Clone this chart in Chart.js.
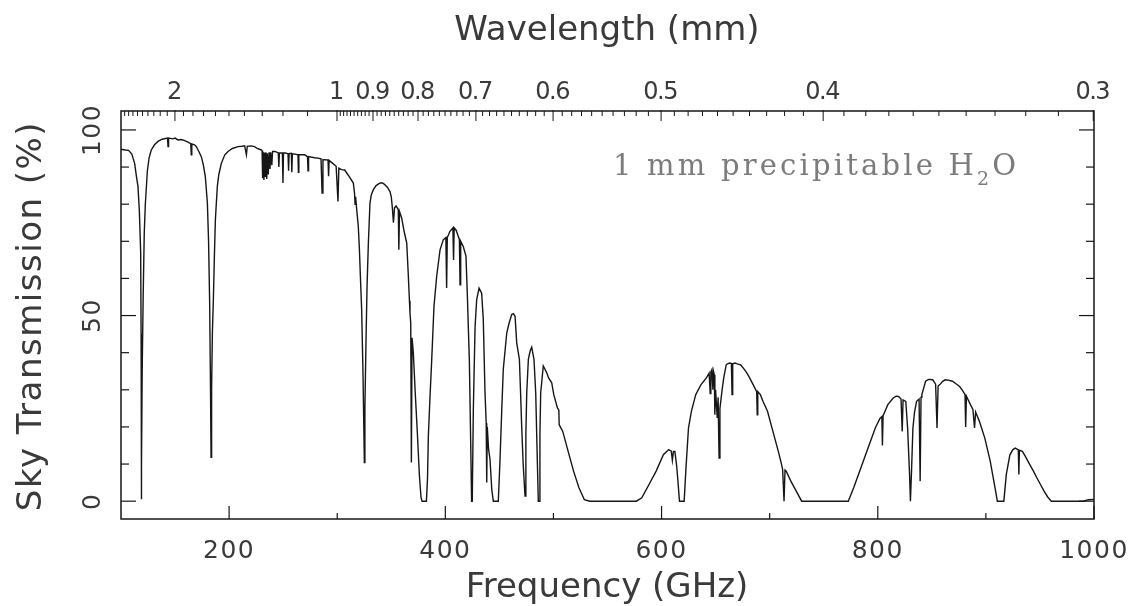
<!DOCTYPE html>
<html>
<head>
<meta charset="utf-8">
<title>Sky Transmission</title>
<script src="https://cdn.jsdelivr.net/npm/chart.js@4.4.1/dist/chart.umd.min.js"></script>
<style>
  html, body { margin: 0; padding: 0; background: #fff; }
  #wrap { width: 1134px; height: 606px; }
</style>
</head>
<body>
<div id="wrap"><canvas id="sky" width="1134" height="606"></canvas></div>
<script>
// -- DATA ----------------------------------------------
// transmission spectrum (GHz, %)
const freqGHz = [
  100, 104, 107, 110, 112.6, 114.5, 115.7, 117, 118.2, 118.6,
  118.8, 119.1, 119.6, 120.5, 121.5, 122.5, 124.4, 126, 128, 131,
  134.2, 138, 143, 143.5, 144, 148, 150, 152.7, 156, 158.9,
  162, 164.5, 165, 165.5, 168, 169.7, 172, 174.3, 176.2, 178,
  179.9, 181, 182, 182.8, 183.3, 183.8, 184.5, 185.5, 186.3, 187.3,
  189.1, 190.5, 192.8, 196, 199, 203, 208.2, 212, 214.4, 216,
  216.8, 220, 223.6, 226, 229.8, 230.5, 231, 231.5, 232.2, 232.8,
  233.5, 234, 234.8, 235.4, 236.2, 237, 237.8, 238.5, 239.5, 240.2,
  242.2, 244, 245.5, 246, 246.5, 249.3, 249.8, 250.3, 252, 254.5,
  255, 255.5, 257.6, 258, 258.5, 261, 263.7, 264.1, 264.5, 269.9,
  272.5, 273, 273.5, 279, 282.2, 285, 286, 286.8, 291.5, 292,
  292.5, 295, 299, 300.7, 301.5, 304, 306.9, 308.8, 311, 314.9,
  316, 316.5, 317, 318.2, 319.5, 320.5, 321.5, 322.6, 323.8, 324.6,
  325.1, 325.6, 326.6, 327.6, 328.8, 330.3, 331.5, 333.4, 336, 339.6,
  342, 344.2, 346.5, 348.8, 350, 351, 352, 353, 354.5, 356.5,
  357, 357.6, 359.6, 362, 364.3, 365.8, 366.8, 367.3, 368, 368.6,
  369.2, 370.4, 372.2, 374.1, 376, 377.5, 378.5, 382.5, 383.5, 384.3,
  385.8, 387.4, 389.5, 392, 395.1, 398.1, 400.5, 401.2, 401.8, 404.3,
  407, 407.6, 408.2, 410, 412, 413, 413.6, 414.2, 416.6, 419.1,
  420.3, 422.2, 423.5, 424.3, 424.9, 425.9, 427.5, 429, 431.2, 433.6,
  435.1, 436.7, 437.8, 438.3, 438.8, 440, 441.3, 443, 444.4, 449,
  450.6, 452.2, 453.6, 456.8, 459, 461.4, 463, 464.5, 466, 468.5,
  469.5, 470.6, 472, 473.7, 474.5, 475.3, 476.8, 478.5, 479.9, 482,
  483.6, 485, 486, 486.8, 487.5, 488.2, 490.6, 493.8, 495.5, 498.4,
  500.3, 503.7, 505, 505.3, 508.6, 513.6, 518.6, 523.6, 528.6, 533.6,
  576.7, 581.7, 588.4, 595, 601.7, 606.6, 609, 610, 611, 612.3,
  613.8, 614.9, 616.6, 620.9, 622.6, 624.9, 627.6, 631.6, 636.5, 641.5,
  644, 645, 645.6, 646.5, 647.5, 648, 648.8, 649.3, 650, 651.5,
  652.3, 653.2, 654, 656, 657.5, 659.8, 661, 663.1, 664.6, 665.2,
  665.8, 668.1, 670, 673.1, 675.5, 678.1, 681, 684.7, 688, 688.5,
  689, 691.4, 694, 698, 703, 708, 710.5, 712, 713.3, 714.2,
  715.3, 719.6, 724.6, 729.6, 772.7, 777.7, 784.4, 791, 797.7, 802,
  803.8, 804.3, 804.9, 809.3, 814.3, 817, 819.2, 821.5, 822.6, 823.4,
  825.9, 827.6, 829.3, 830.2, 831.2, 832.5, 834, 835.9, 838.2, 839.2,
  840, 840.8, 844.2, 847, 850.8, 853.5, 854.8, 855.8, 857.4, 860,
  862.4, 865, 869.1, 872, 875.7, 878.5, 880.7, 881.3, 882, 885.7,
  888, 889.5, 890.5, 894, 899, 904, 909, 910.6, 916.6, 918.9,
  922.2, 925, 927.2, 930, 930.5, 931, 933.8, 937, 940.5, 944,
  947.1, 950.5, 953.8, 957, 960.5, 990, 995, 1000
];
const transmission = [
  94.8, 94.6, 94.5, 93.5, 91, 87, 84.8, 78, 67, 45,
  0.5, 10, 35, 55, 72, 80, 89, 92.5, 94.6, 96,
  96.9, 97.5, 97.8, 95.5, 97.8, 97.6, 97.8, 97.3, 97.4, 97.1,
  96.7, 96.3, 93.3, 96.2, 96, 95.5, 94.2, 92.8, 90.5, 87.4,
  80.3, 70, 53.5, 30, 11.8, 30, 45, 55, 65, 75.8,
  84.8, 88, 91, 93.3, 94.2, 95, 95.5, 95.6, 95.7, 93.3,
  95.6, 95.7, 95.5, 95, 94.6, 94.4, 87, 94, 86.5, 93.8,
  87.5, 94, 86.8, 93.7, 88, 94, 89.5, 94, 90.5, 94.2,
  94.2, 94, 93.8, 90, 93.8, 93.8, 85.7, 93.8, 93.8, 93.6,
  89, 93.6, 93.7, 88.6, 93.6, 93.5, 93.3, 88.6, 93.3, 93.3,
  92.8, 89, 92.8, 92.5, 92.4, 92.2, 83, 92, 91.9, 87.5,
  91.8, 91.2, 90.2, 80.7, 89.7, 89.3, 89.2, 88.4, 87.5, 85.7,
  83, 80, 82, 78, 74, 68, 60, 51.6, 35, 20,
  10.4, 25, 42.7, 58, 69.5, 80.3, 82.5, 83.9, 85, 85.7,
  85.7, 85.2, 84.5, 83.4, 82, 79, 75, 79, 79.5, 78.5,
  67.7, 78, 76.3, 72.5, 69.5, 60.6, 54, 50.7, 48, 10.4,
  44, 40, 29, 18.5, 7, 1, 0, 0, 6, 17.6,
  28, 38, 52.5, 60.6, 67.7, 70.4, 71, 57.4, 71, 72.7,
  73.6, 65, 73.6, 73, 71.3, 70.5, 58.3, 70, 68.6, 66,
  56, 38.2, 15, 0, 0, 24.7, 47, 54.3, 57.4, 56,
  49, 29.2, 21, 5, 20, 14, 11.3, 3, 0, 0,
  11.3, 24.7, 35.5, 45.3, 48, 50.3, 50.5, 49.8, 42.7, 38.2,
  30, 20.3, 10, 1.4, 18, 29.2, 38.2, 40.5, 41.5, 38.2,
  29.2, 12, 0, 0, 18, 29.2, 36.4, 34.6, 33.2, 31.9,
  28.7, 25.1, 24.5, 20.6, 18.8, 13.4, 8.1, 3.6, 0.4, 0,
  0, 0.9, 4.5, 8.1, 12.5, 13.9, 13.5, 11, 13.4, 13.4,
  10, 6.3, 0, 0, 9, 19.7, 24.2, 28.7, 31.4, 33.2,
  34.5, 29, 34.8, 35.4, 30, 35, 34, 23.3, 30, 22.4,
  28, 11.6, 25, 30, 33.2, 36.7, 37, 37.2, 37.1, 28.7,
  37, 37.2, 37, 36.7, 35.9, 34.9, 33.5, 31.4, 29.5, 23.3,
  29.5, 28.7, 26.8, 24.2, 18.8, 13.4, 10.5, 8.5, 0, 8.4,
  8.1, 5.4, 2.7, 0, 0, 3.6, 9, 14.3, 19.7, 22.3,
  22.8, 15, 23, 26, 27.8, 28.3, 28.2, 27.5, 18.8, 27.3,
  26.9, 19.7, 8, 0, 8, 19.7, 24, 26.9, 27.5, 5.4,
  28, 28.7, 32.3, 32.8, 32.7, 31.5, 19.7, 31, 31.4, 32.3,
  32.7, 32.6, 32.3, 31.7, 30.9, 29.8, 28.7, 20, 28.3, 26,
  24.7, 19.7, 24, 21.5, 17, 10.8, 2.7, 0, 0, 7.2,
  12.5, 13.9, 14.3, 13.8, 7.2, 13.7, 13.4, 11.8, 9.9, 8.1,
  6.3, 4.5, 2.7, 1.2, 0, 0, 0.4, 0.5
];

const freqLabelTicks = [200, 400, 600, 800, 1000];
const freqMinorTicks = [300, 500, 700, 900];
const transLabelTicks = [0, 50, 100];
const transMinorTicks = [10, 20, 30, 40, 60, 70, 80, 90];
const wavelengthLabels = [2, 1, 0.9, 0.8, 0.7, 0.6, 0.5, 0.4, 0.3];

const xTitle = "Frequency (GHz)";
const yTitle = "Sky Transmission (%)";
const topTitle = "Wavelength (mm)";
const noteText = ["1 mm precipitable H", "2", "O"];

const C_MM_GHZ = 299.792458; // c in mm*GHz

// minor wavelength ticks: 0.1 mm steps above 1 mm, 0.01 mm below
const wavelengthMinor = [];
for (let k = 11; k <= 29; k++) {
  if (k !== 20) wavelengthMinor.push(k / 10);
}
for (let k = 31; k <= 99; k++) {
  if (k % 10 !== 0) wavelengthMinor.push(k / 100);
}

if (freqGHz.length !== transmission.length) {
  console.warn("length mismatch", freqGHz.length, transmission.length);
}

// -- STYLE ---------------------------------------------
const INK = "#161616";
const TEXT = "#3a3a3a";
const NOTE = "#7c7c7c";
const SANS = "'DejaVu Sans', 'Liberation Sans', sans-serif";
const SERIF = "'DejaVu Serif', 'Liberation Serif', serif";

function tick(ctx, x1, y1, x2, y2) {
  ctx.beginPath();
  ctx.moveTo(x1, y1);
  ctx.lineTo(x2, y2);
  ctx.stroke();
}

// -- PLUGIN: boxed frame, inward ticks, labels ---------
const pgFrame = {
  id: "pgFrame",
  afterDatasetsDraw(chart) {
    const { ctx, chartArea: a, scales } = chart;
    const x = scales.x;
    const y = scales.y;
    ctx.save();

    ctx.strokeStyle = INK;
    ctx.lineWidth = 1.5;
    ctx.strokeRect(a.left, a.top, a.right - a.left, a.bottom - a.top);

    ctx.lineWidth = 1.2;
    freqLabelTicks.forEach((v) => {
      const px = x.getPixelForValue(v);
      tick(ctx, px, a.bottom, px, a.bottom - 13);
    });
    freqMinorTicks.forEach((v) => {
      const px = x.getPixelForValue(v);
      tick(ctx, px, a.bottom, px, a.bottom - 6);
    });
    transLabelTicks.forEach((v) => {
      const py = y.getPixelForValue(v);
      tick(ctx, a.left, py, a.left + 15, py);
      tick(ctx, a.right, py, a.right - 15, py);
    });
    transMinorTicks.forEach((v) => {
      const py = y.getPixelForValue(v);
      tick(ctx, a.left, py, a.left + 8, py);
      tick(ctx, a.right, py, a.right - 8, py);
    });

    ctx.lineWidth = 1;
    wavelengthLabels.forEach((l) => {
      const px = x.getPixelForValue(C_MM_GHZ / l);
      tick(ctx, px, a.top - 1, px, a.top + 10);
    });
    wavelengthMinor.forEach((l) => {
      const px = x.getPixelForValue(C_MM_GHZ / l);
      tick(ctx, px, a.top, px, a.top + 5);
    });

    // tick labels
    ctx.fillStyle = TEXT;
    ctx.textBaseline = "alphabetic";
    ctx.textAlign = "center";
    ctx.font = "25px " + SANS;
    ctx.letterSpacing = "1.5px";
    freqLabelTicks.forEach((v) => {
      ctx.fillText(String(v), x.getPixelForValue(v), 558);
    });
    transLabelTicks.forEach((v) => {
      ctx.save();
      ctx.translate(100, y.getPixelForValue(v));
      ctx.rotate(-Math.PI / 2);
      ctx.fillText(String(v), 0, 0);
      ctx.restore();
    });
    ctx.font = "24px " + SANS;
    ctx.letterSpacing = "-1.5px";
    wavelengthLabels.forEach((l) => {
      ctx.fillText(String(l), x.getPixelForValue(C_MM_GHZ / l) - 1, 99);
    });

    // axis titles
    ctx.font = "34px " + SANS;
    ctx.letterSpacing = "0px";
    ctx.fillText(topTitle, 607, 40);
    ctx.fillText(xTitle, 607, 597);
    ctx.save();
    ctx.translate(41, 316);
    ctx.rotate(-Math.PI / 2);
    ctx.letterSpacing = "1.5px";
    ctx.fillText(yTitle, 0, 0);
    ctx.restore();

    // annotation
    ctx.fillStyle = NOTE;
    ctx.textAlign = "left";
    ctx.font = "29px " + SERIF;
    ctx.letterSpacing = "3.2px";
    let nx = 613;
    ctx.fillText(noteText[0], nx, 175);
    nx += ctx.measureText(noteText[0]).width;
    ctx.font = "19px " + SERIF;
    ctx.fillText(noteText[1], nx, 185);
    nx += ctx.measureText(noteText[1]).width;
    ctx.font = "29px " + SERIF;
    ctx.fillText(noteText[2], nx, 175);

    ctx.restore();
  }
};

// -- RENDER --------------------------------------------
const points = freqGHz.map((f, i) => ({ x: f, y: transmission[i] }));

new Chart(document.getElementById("sky"), {
  type: "line",
  data: {
    datasets: [
      {
        label: "Transmission",
        data: points,
        borderColor: INK,
        borderWidth: 1.4,
        pointRadius: 0,
        tension: 0,
        fill: false
      }
    ]
  },
  options: {
    responsive: false,
    animation: false,
    devicePixelRatio: 1,
    layout: { padding: { left: 121, right: 40, top: 111, bottom: 87 } },
    scales: {
      x: { type: "linear", display: false, min: 100, max: 1000 },
      y: { type: "linear", display: false, min: -4.8, max: 105.1 }
    },
    plugins: {
      legend: { display: false },
      tooltip: { enabled: false }
    }
  },
  plugins: [pgFrame]
});
</script>
</body>
</html>
